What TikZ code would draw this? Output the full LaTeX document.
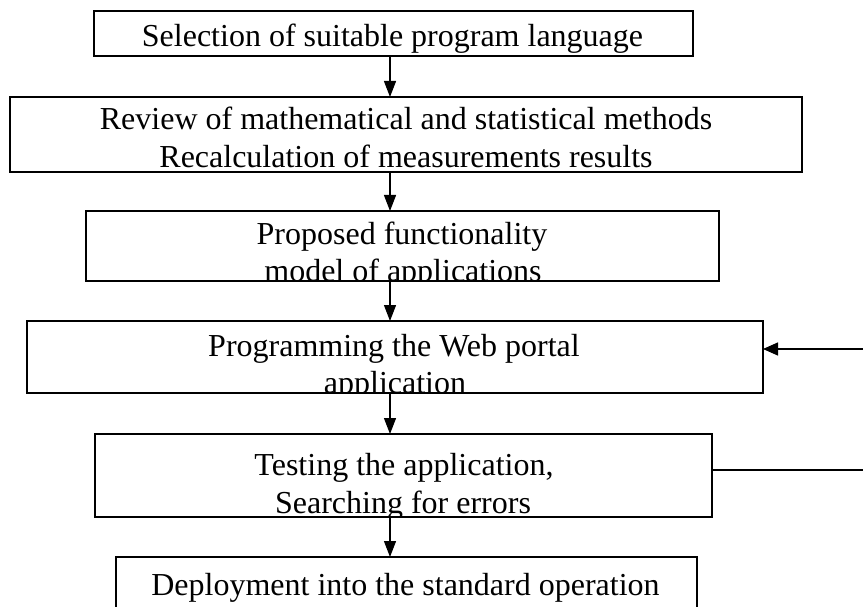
\documentclass[tikz,border=0pt]{standalone}
\usepackage{fontspec}
\setmainfont{Liberation Serif}
\usetikzlibrary{arrows.meta}
\tikzset{
  stepbox/.style={draw=black, line width=2pt, inner sep=0pt, outer sep=0pt, rectangle},
  lbl/.style={anchor=base, inner sep=0pt, outer sep=0pt, font=\fontsize{32}{38}\selectfont},
  arr/.style={line width=1.3pt, -{Triangle[length=16pt,width=12pt]}},
  plain/.style={line width=1.3pt}
}
\begin{document}
\begin{tikzpicture}[x=1pt,y=-1pt]
\useasboundingbox (0,0) rectangle (863,607);
\fill[white] (0,0) rectangle (863,607);
\clip (0,0) rectangle (863,607);
% boxes
\node[stepbox, minimum width=599pt, minimum height=45pt] (b1) at (393.5,33.5) {};
\node[stepbox, minimum width=792pt, minimum height=75pt] (b2) at (406,134.5) {};
\node[stepbox, minimum width=633pt, minimum height=70pt] (b3) at (402.5,246) {};
\node[stepbox, minimum width=736pt, minimum height=72pt] (b4) at (395,357) {};
\node[stepbox, minimum width=617pt, minimum height=83pt] (b5) at (403.5,475.5) {};
\node[stepbox, minimum width=581pt, minimum height=83pt] (b6) at (406.5,598.5) {};
% texts (clipped to box interiors)
\begin{scope}\clip (b1.south west) rectangle (b1.north east);
\node[lbl] (t1) at (392.5,47) {Selection of suitable program language};
\end{scope}
\begin{scope}\clip (b2.south west) rectangle (b2.north east);
\node[lbl] (t2a) at (406,130) {Review of mathematical and statistical methods};
\node[lbl] (t2b) at (406,168) {Recalculation of measurements results};
\end{scope}
\begin{scope}\clip (b3.south west) rectangle (b3.north east);
\node[lbl] (t3a) at (402,244) {Proposed functionality};
\node[lbl] (t3b) at (403,281) {model of applications};
\end{scope}
\begin{scope}\clip (b4.south west) rectangle (b4.north east);
\node[lbl] (t4a) at (394,356) {Programming the Web portal};
\node[lbl] (t4b) at (395,393) {application};
\end{scope}
\begin{scope}\clip (b5.south west) rectangle (b5.north east);
\node[lbl] (t5a) at (404,475) {Testing the application,};
\node[lbl] (t5b) at (403,513) {Searching for errors};
\end{scope}
\begin{scope}\clip (b6.south west) rectangle (b6.north east);
\node[lbl] (t6) at (405.5,595) {Deployment into the standard operation};
\end{scope}
% connectors
\coordinate (ax) at (390,0);
\draw[arr] (b1.south -| ax) -- (b2.north -| ax);
\draw[arr] (b2.south -| ax) -- (b3.north -| ax);
\draw[arr] (b3.south -| ax) -- (b4.north -| ax);
\draw[arr] (b4.south -| ax) -- (b5.north -| ax);
\draw[arr] (b5.south -| ax) -- (b6.north -| ax);
\coordinate (r4) at (863,349);
\coordinate (r5) at (863,470);
\draw[line width=1.3pt, -{Triangle[length=15pt,width=13pt]}] (r4) -- (b4.east |- r4);
\draw[plain] (b5.east |- r5) -- (r5);
\end{tikzpicture}
\end{document}
